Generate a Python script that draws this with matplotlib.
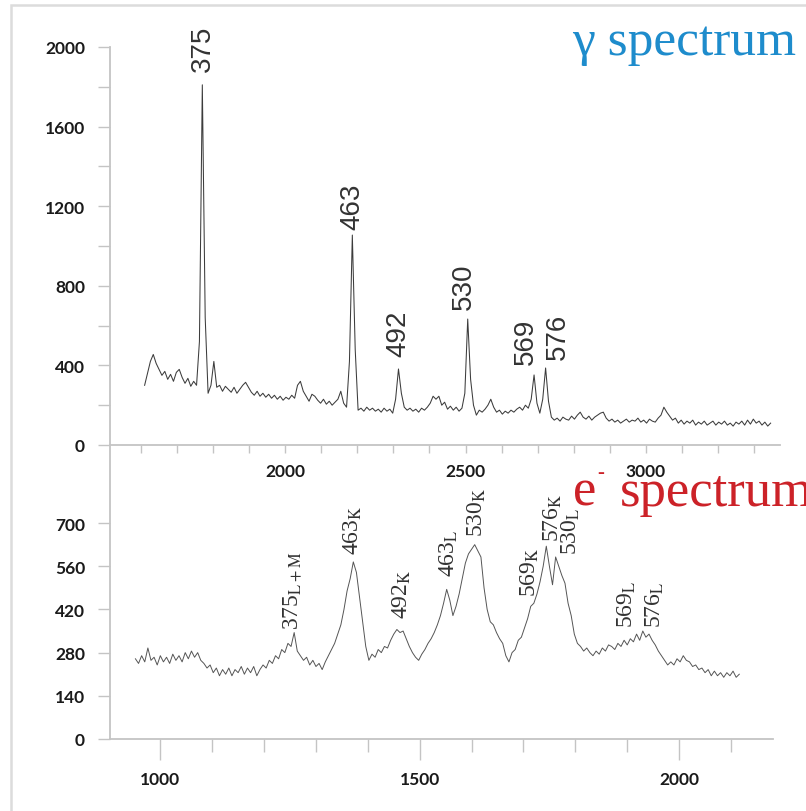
import numpy as np
import matplotlib.pyplot as plt
from matplotlib.patches import Rectangle

plt.rcParams['mathtext.fontset'] = 'stix'

W, H = 806, 812
fig = plt.figure(figsize=(W / 100, H / 100), dpi=100)

# gamma spectrum, counts per channel (8 units per channel from 1610)
gamma_start, gamma_step = 1610, 8
gamma_counts = [
    300, 360, 420, 455, 410, 380, 350, 370, 330, 355, 320, 365, 380, 340, 310, 335,
    295, 320, 300, 520, 1810, 640, 260, 300, 420, 290, 300, 270, 295, 280, 265, 290,
    260, 280, 300, 315, 290, 265, 250, 270, 245, 260, 240, 255, 235, 250, 230, 245,
    225, 240, 230, 250, 235, 300, 320, 270, 245, 220, 255, 245, 225, 210, 230, 205,
    220, 200, 215, 230, 270, 210, 190, 420, 1055, 480, 175, 185, 170, 190, 175, 185,
    170, 180, 165, 185, 170, 180, 160, 230, 382, 260, 190, 175, 185, 170, 180, 165,
    185, 175, 190, 210, 245, 230, 245, 200, 215, 180, 195, 175, 190, 170, 185, 260,
    633, 330, 200, 150, 175, 165, 180, 200, 230, 190, 165, 175, 155, 170, 160, 175,
    165, 180, 190, 175, 200, 185, 230, 352, 210, 160, 230, 387, 220, 140, 125, 135,
    120, 140, 130, 125, 145, 130, 150, 165, 140, 130, 145, 125, 140, 150, 160, 165,
    135, 120, 130, 115, 125, 110, 120, 130, 115, 125, 120, 135, 115, 125, 110, 130,
    120, 115, 135, 150, 190, 165, 145, 125, 135, 110, 125, 105, 120, 110, 125, 100,
    115, 105, 120, 100, 110, 120, 100, 115, 105, 120, 100, 110, 95, 115, 105, 120,
    100, 125, 105, 130, 110, 120, 100, 115, 95, 110,
]

# electron spectrum, counts per channel (6 units per channel from 952)
elec_start, elec_step = 952, 6
elec_counts = [
    260, 245, 270, 250, 295, 255, 265, 240, 270, 250, 265, 245, 275, 255, 270, 250,
    280, 260, 285, 265, 280, 255, 245, 230, 240, 215, 230, 205, 225, 210, 230, 205,
    225, 215, 235, 210, 230, 215, 235, 205, 225, 240, 230, 255, 245, 270, 260, 290,
    280, 310, 300, 345, 285, 270, 255, 265, 240, 255, 235, 245, 225, 250, 270, 290,
    310, 340, 370, 420, 480, 520, 574, 540, 460, 380, 300, 255, 275, 265, 290, 280,
    300, 295, 320, 340, 355, 345, 350, 325, 300, 280, 265, 255, 275, 290, 310, 325,
    345, 370, 400, 440, 485, 450, 400, 430, 470, 520, 570, 600, 615, 630, 610, 590,
    490, 420, 380, 370, 345, 325, 310, 270, 250, 280, 290, 320, 330, 360, 390, 430,
    440, 470, 510, 560, 625, 560, 500, 590, 560, 530, 505, 440, 400, 340, 310, 300,
    285, 295, 280, 270, 285, 275, 295, 285, 305, 300, 290, 310, 300, 320, 305, 325,
    315, 340, 320, 350, 330, 340, 320, 305, 285, 270, 255, 240, 250, 240, 260, 250,
    270, 255, 250, 235, 240, 225, 230, 215, 225, 205, 220, 205, 215, 200, 215, 205,
    220, 200, 210,
]

gamma_x = gamma_start + gamma_step * np.arange(len(gamma_counts))
elec_x = elec_start + elec_step * np.arange(len(elec_counts))

# peak labels: (text, x, y of text bottom)
gamma_labels = ['375', '463', '492', '530', '569', '576']
gamma_lab_x = [1772, 2186, 2314, 2494, 2667, 2756]
gamma_lab_y = [1879, 1085, 447, 683, 407, 432]

elec_labels = [r'375$_\mathrm{L+M}$', r'463$_\mathrm{K}$', r'492$_\mathrm{K}$',
               r'463$_\mathrm{L}$', r'530$_\mathrm{K}$', r'569$_\mathrm{K}$',
               r'576$_\mathrm{K}$', r'530$_\mathrm{L}$', r'569$_\mathrm{L}$',
               r'576$_\mathrm{L}$']
elec_lab_x = [1255, 1372, 1466, 1556, 1610, 1712, 1756, 1791, 1900, 1954]
elec_lab_y = [356, 600, 392, 528, 658, 463, 642, 600, 363, 363]


def frac(x0, y0, x1, y1):
    return [x0 / W, 1 - y1 / H, (x1 - x0) / W, (y1 - y0) / H]


spine_c = '#c4c4c4'
tick_font = dict(family='Lato', weight='bold', size=12.5)

ax1 = fig.add_axes(frac(110, 48, 780, 446))
ax2 = fig.add_axes(frac(110, 446, 773, 740))
for ax in (ax1, ax2):
    ax.patch.set_alpha(0)
    for s in ('top', 'right'):
        ax.spines[s].set_visible(False)
    for s in ('left', 'bottom'):
        ax.spines[s].set_color(spine_c)
        ax.spines[s].set_linewidth(1.3)

# top panel
ax1.plot(gamma_x, gamma_counts, color='#3c3c3c', lw=0.75)
ax1.set_xlim(1514, 3372)
ax1.set_ylim(0, 2000)
ax1.set_xticks([2000, 2500, 3000])
ax1.set_xticks([v for v in range(1600, 3400, 100) if v % 500], minor=True)
ax1.set_yticks(range(0, 2001, 400))
ax1.set_yticks(range(200, 2000, 400), minor=True)
ax1.tick_params(axis='x', which='both', length=6, width=1, color=spine_c, pad=7)
ax1.tick_params(axis='y', which='both', length=9, width=1, color=spine_c, pad=9)
for t, x, y in zip(gamma_labels, gamma_lab_x, gamma_lab_y):
    ax1.text(x, y, t, rotation=90, ha='center', va='bottom',
             fontsize=20, family='Liberation Sans', color='#333333')

# bottom panel
ax2.plot(elec_x, elec_counts, color='#555555', lw=0.7)
ax2.set_xlim(903, 2181)
ax2.set_ylim(0, 953)
ax2.set_xticks([1000, 1500, 2000])
ax2.set_xticks([v for v in range(1100, 2200, 100) if v % 500], minor=True)
ax2.set_yticks(range(0, 701, 140))
ax2.tick_params(axis='x', which='major', length=15, width=1, color=spine_c, pad=8)
ax2.tick_params(axis='x', which='minor', length=9, width=1, color=spine_c)
ax2.tick_params(axis='y', length=9, width=1, color=spine_c, pad=9)
for t, x, y in zip(elec_labels, elec_lab_x, elec_lab_y):
    ax2.text(x, y, t, rotation=90, ha='center', va='bottom',
             fontsize=17, family='Liberation Serif', color='#333333')

for ax in (ax1, ax2):
    for lab in ax.get_xticklabels() + ax.get_yticklabels():
        lab.set_fontproperties(tick_font)
        lab.set_color('#1a1a1a')

fig.text(572 / W, 1 - 55 / H, 'γ spectrum', fontsize=37, family='Liberation Serif',
         color='#1e8ccc', va='baseline', ha='left')
red = '#cc2228'
fig.text(573 / W, 1 - 506 / H, 'e', fontsize=38, family='Liberation Serif',
         color=red, va='baseline', ha='left')
fig.text(597 / W, 1 - 478 / H, '-', fontsize=15, family='Liberation Serif',
         color=red, va='baseline', ha='left')
fig.text(620 / W, 1 - 506 / H, 'spectrum', fontsize=38, family='Liberation Serif',
         color=red, va='baseline', ha='left')

fig.add_artist(Rectangle((11 / W, -0.1), 1.2, 1.1 - 6 / H, transform=fig.transFigure,
                         fill=False, ec='#dcdcdc', lw=1.8))

fig.savefig('out.png', dpi=100)
